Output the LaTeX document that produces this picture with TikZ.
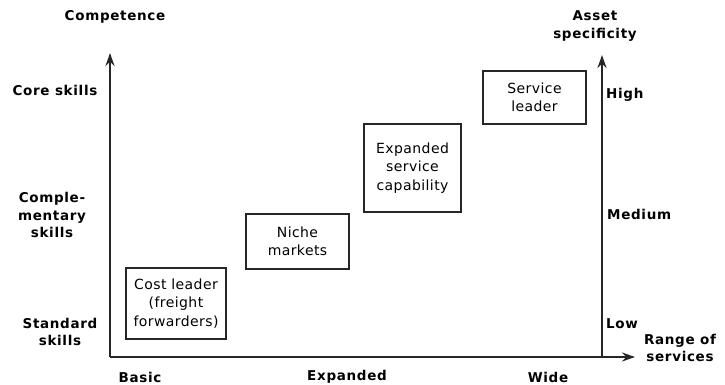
\documentclass[tikz,border=0pt]{standalone}
\usepackage{fontspec}
\setmainfont{DejaVu Sans}
\newfontfamily\labfam{DejaVu Sans}[LetterSpace=5]
\newfontfamily\boxfam{DejaVu Sans}[LetterSpace=3]
\usetikzlibrary{arrows.meta,positioning}
\newcommand{\labfont}{\labfam\bfseries\fontsize{13.5}{17.5}\selectfont}
\newcommand{\boxfont}{\boxfam\fontsize{14}{18.5}\selectfont}
\tikzset{
  ax/.style={-{Stealth[length=13pt,width=9pt]},line width=2.2pt,black!85},
  lab/.style={font=\labfont,align=center,inner sep=0pt},
  box/.style={draw=black!85,line width=1.4pt,align=center,font=\boxfont,inner sep=0pt}
}

\begin{document}
\begin{tikzpicture}[x=1pt,y=-1pt]
\useasboundingbox (0,0) rectangle (725,384);
% axes
\coordinate (orig) at (110,357);
\coordinate (ytop) at (110,53);
\coordinate (xend) at (635,357);
\coordinate (rbot) at (602,357);
\coordinate (rtop) at (602,55);
\draw[ax] (orig) -- (ytop);
\draw[ax] (orig) -- (xend);
\draw[ax] (rbot) -- (rtop);
% axis titles
\node[lab] (comp) at (115,17) {Competence};
\node[lab] (asset) at (595,26) {Asset\\specificity};
\node[lab] (range) at (680,348) {Range of\\services};
% competence levels
\node[lab] (core) at (55,90) {Core skills};
\node[lab] (compl) at (52,215) {Comple-\\mentary\\skills};
\node[lab] (std) at (60,332) {Standard\\skills};
% range levels
\node[lab] (basic) at (140,377) {Basic};
\node[lab] (expd) at (347,377) {Expanded};
\node[lab] (wide) at (548,377) {Wide};
% asset specificity levels
\node[lab,anchor=west] (high) at (606,95) {High};
\node[lab,anchor=west] (med) at (607,214) {Medium};
\node[lab,anchor=west] (low) at (606,324) {Low};
% strategy boxes
\node[box,minimum width=100,minimum height=71] (cost) at (176,303.5) {Cost leader\\(freight\\forwarders)};
\node[box,minimum width=103,minimum height=55] (niche) at (297.5,241.5) {Niche\\markets};
\node[box,minimum width=97,minimum height=88] (expsc) at (412.5,168) {Expanded\\service\\capability};
\node[box,minimum width=103,minimum height=53] (serv) at (534.5,97.5) {Service\\leader};
\end{tikzpicture}
\end{document}
